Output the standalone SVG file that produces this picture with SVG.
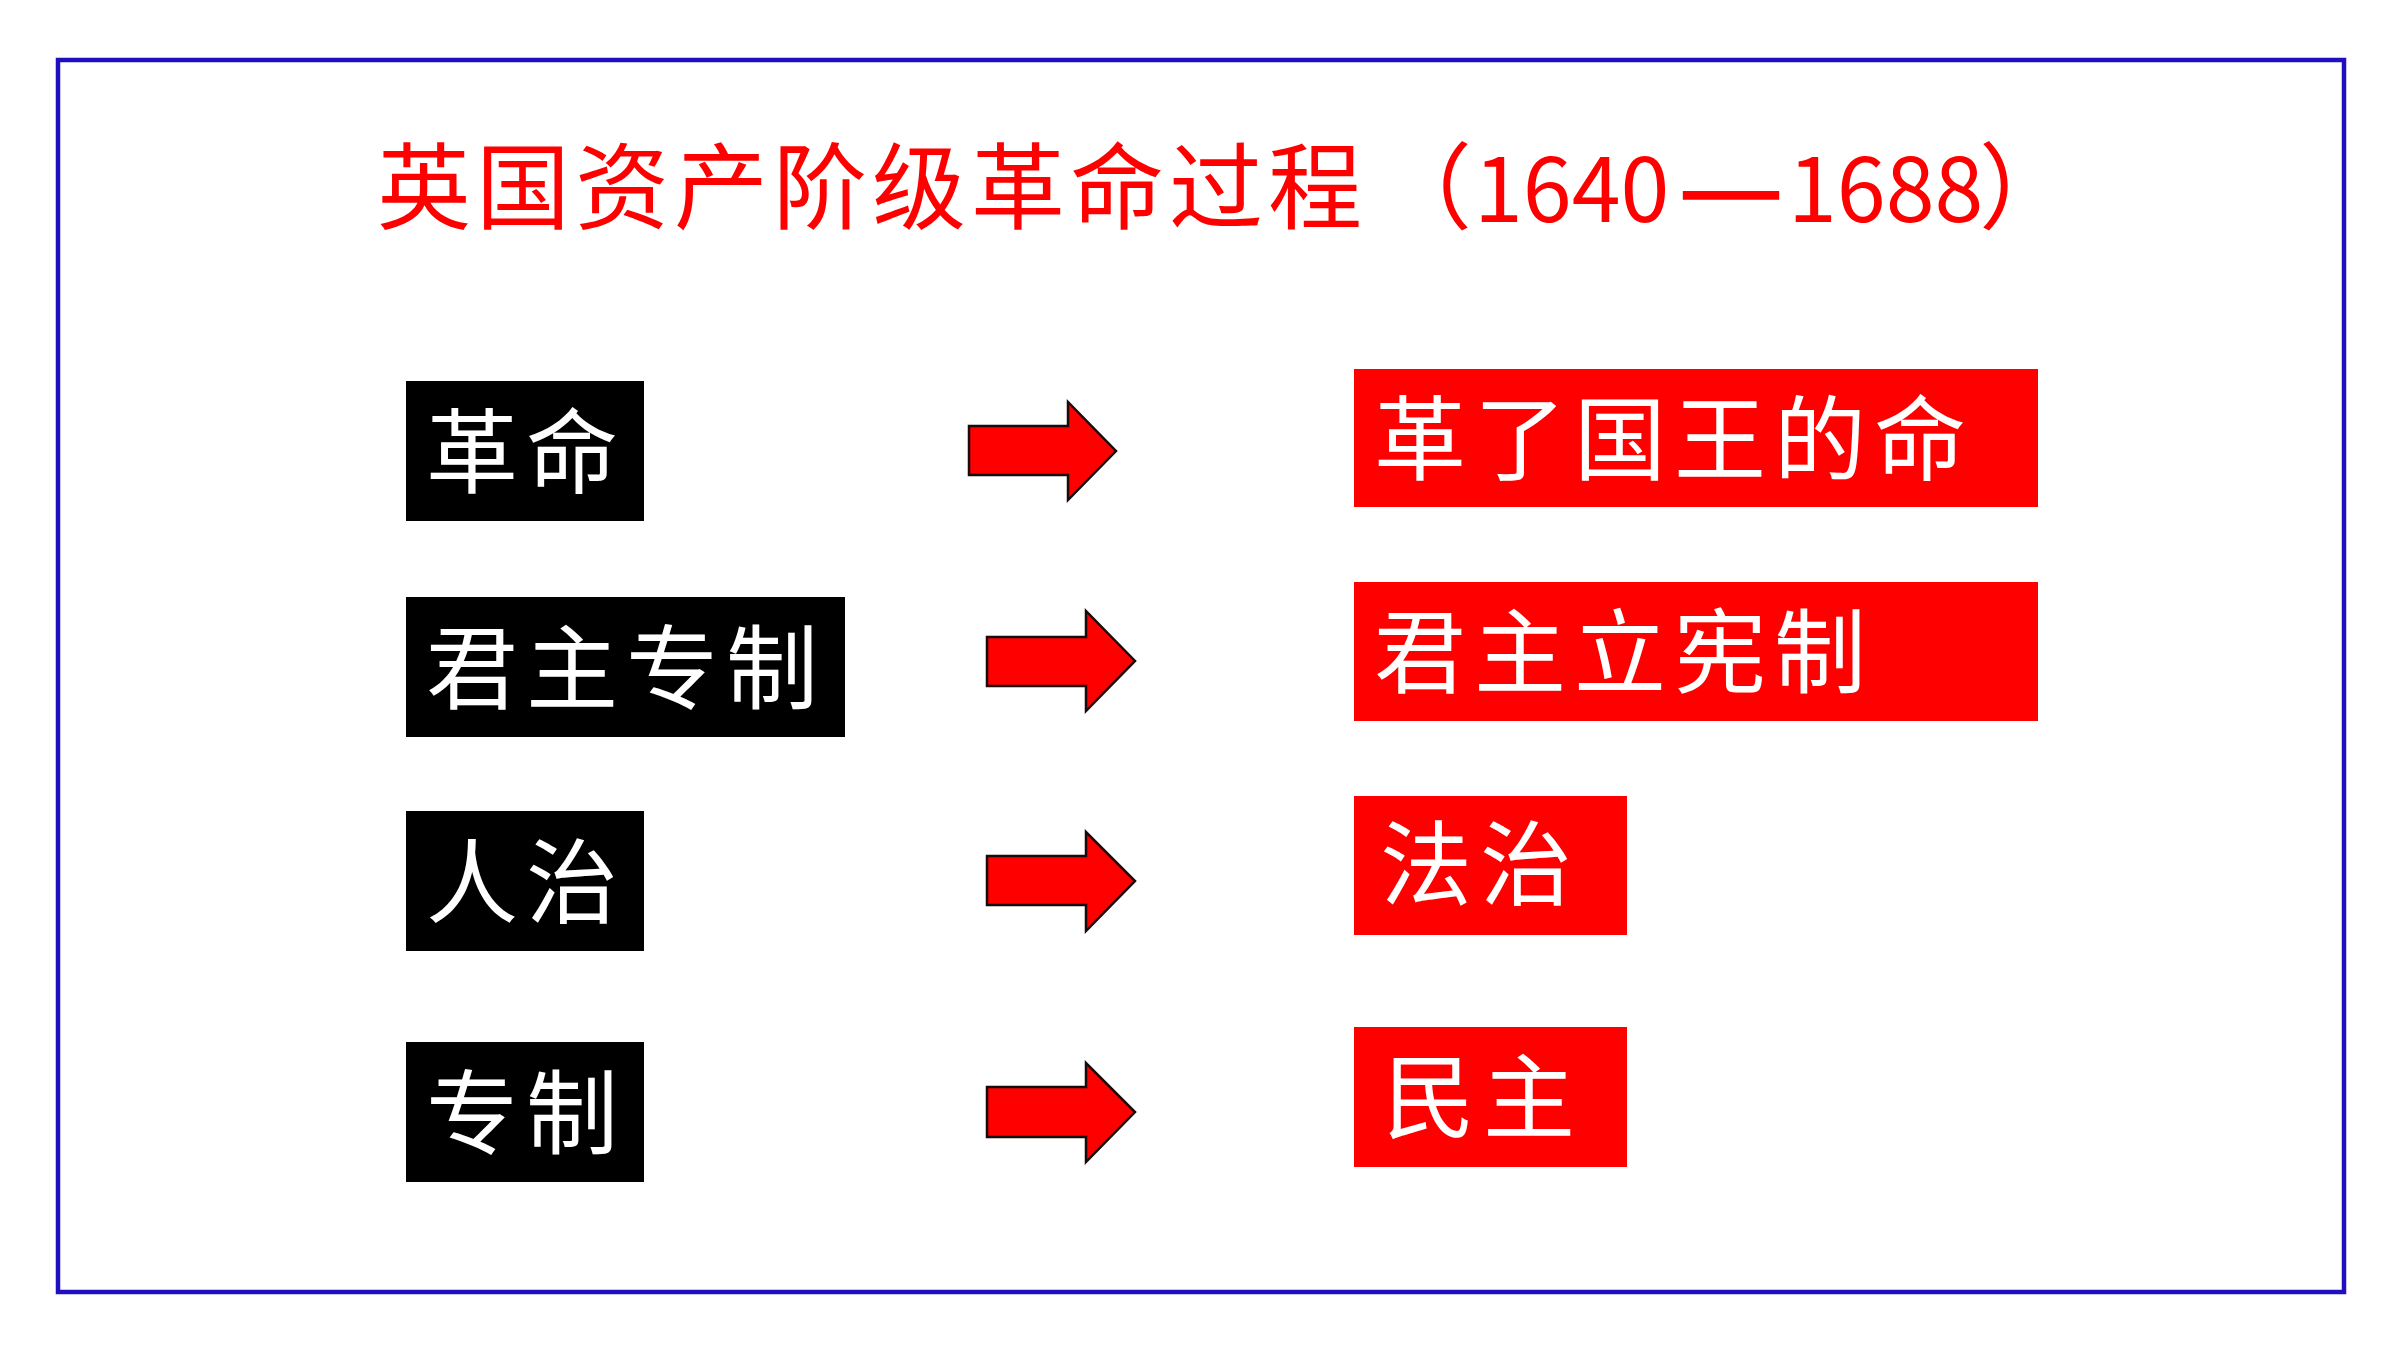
<svg xmlns="http://www.w3.org/2000/svg" width="2400" height="1350" viewBox="0 0 2400 1350">
<style>
.frame{fill:none;stroke:#200FBF;stroke-width:4.5}
.title{font-family:"Noto Sans CJK SC","Noto Sans",sans-serif;font-size:94px;fill:#FF0000}
.num{font-size:88px}
.blk{fill:#000000}
.red{fill:#FF0000}
.lbl{font-family:"Noto Sans CJK SC",sans-serif;font-size:92px;fill:#FFFFFF;letter-spacing:8px}
.arrow{fill:#FF0000;stroke:#1A0A0A;stroke-width:2.5;stroke-linejoin:miter}
</style>
<rect width="2400" height="1350" fill="#FFFFFF"/>
<rect class="frame" x="58" y="60" width="2286" height="1232"/>
<g id="title">
<text class="title" y="222"><tspan x="377" letter-spacing="5">英国资产阶级革命过程</tspan><tspan x="1378">（</tspan><tspan class="num" x="1474">1640</tspan><tspan x="1677" font-weight="700" textLength="108" lengthAdjust="spacingAndGlyphs">—</tspan><tspan class="num" x="1788">1688</tspan><tspan x="1979">）</tspan></text>
</g>
<g id="node-geming">
<rect class="blk" x="406" y="381" width="238" height="140"/>
<text class="lbl" x="426" y="486">革命</text>
</g>
<g id="node-junzhuzhuanzhi">
<rect class="blk" x="406" y="597" width="439" height="140"/>
<text class="lbl" x="426" y="702">君主专制</text>
</g>
<g id="node-renzhi">
<rect class="blk" x="406" y="811" width="238" height="140"/>
<text class="lbl" x="426" y="916">人治</text>
</g>
<g id="node-zhuanzhi">
<rect class="blk" x="406" y="1042" width="238" height="140"/>
<text class="lbl" x="426" y="1147">专制</text>
</g>
<g id="node-gelewang">
<rect class="red" x="1354" y="369" width="684" height="138"/>
<text class="lbl" x="1374" y="473">革了国王的命</text>
</g>
<g id="node-junzhulixian">
<rect class="red" x="1354" y="582" width="684" height="139"/>
<text class="lbl" x="1374" y="686">君主立宪制</text>
</g>
<g id="node-fazhi">
<rect class="red" x="1354" y="796" width="273" height="139"/>
<text class="lbl" x="1380" y="898">法治</text>
</g>
<g id="node-minzhu">
<rect class="red" x="1354" y="1027" width="273" height="140"/>
<text class="lbl" x="1383" y="1131">民主</text>
</g>
<g id="connectors">
<polygon class="arrow" points="969,426 1068,426 1068,402 1116,451 1068,500 1068,475 969,475"/>
<polygon class="arrow" points="987,637 1086,637 1086,611 1135,661 1086,711 1086,686 987,686"/>
<polygon class="arrow" points="987,856 1086,856 1086,832 1135,881 1086,931 1086,905 987,905"/>
<polygon class="arrow" points="987,1087 1086,1087 1086,1063 1135,1112 1086,1162 1086,1137 987,1137"/>
</g>
</svg>
